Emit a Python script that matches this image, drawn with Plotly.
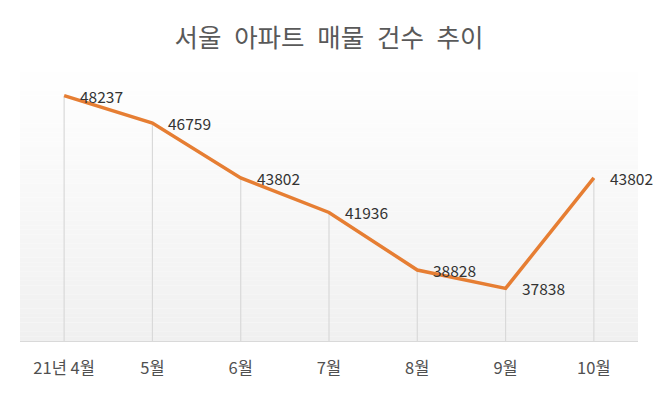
import plotly.graph_objects as go

categories = ["21년 4월", "5월", "6월", "7월", "8월", "9월", "10월"]
listings = [48237, 46759, 43802, 41936, 38828, 37838, 43802]
title_text = "서울 아파트 매물 건수 추이"

y_min, y_max = 35000, 50000
FONT = "Noto Sans CJK KR"

fig = go.Figure()

# drop lines from each point to the baseline
fig.add_trace(go.Scatter(
    x=categories, y=listings, mode="markers",
    marker=dict(size=0.1, color="rgba(0,0,0,0)"),
    error_y=dict(type="data", symmetric=False,
                 array=[0] * len(listings),
                 arrayminus=[v - y_min for v in listings],
                 color="#d9d9d9", thickness=1.2, width=0),
    hoverinfo="skip", showlegend=False,
))

fig.add_trace(go.Scatter(
    x=categories, y=listings, mode="lines",
    line=dict(color="#E67E33", width=3.5),
    showlegend=False,
))

for c, v in zip(categories, listings):
    fig.add_annotation(x=c, y=v, text=str(v), showarrow=False,
                       xanchor="left", yanchor="middle", xshift=14,
                       font=dict(family=FONT, size=15.5, color="#333333"))

# vertical gradient background in plot area
n = 60
for i in range(n):
    t = i / (n - 1)
    g = round(255 - (255 - 240) * t)
    fig.add_shape(type="rect", xref="x domain", yref="y domain",
                  x0=0, x1=1, y0=1 - (i + 1) / n, y1=1 - i / n,
                  fillcolor=f"rgb({g},{g},{g})", line=dict(width=0),
                  layer="below")

fig.update_layout(
    width=658, height=393,
    margin=dict(l=20, r=20, t=63, b=52),
    paper_bgcolor="white", plot_bgcolor="white",
    title=dict(text=title_text.replace(" ", "\u2002"), x=0.5, xanchor="center",
               y=0.902, yanchor="middle",
               font=dict(family=FONT, size=25.5, color="#595959")),
    xaxis=dict(type="category", range=[-0.5, len(categories) - 0.5],
               showgrid=False, zeroline=False, showline=True,
               linecolor="#d9d9d9", linewidth=1, ticks="",
               ticklabelstandoff=12,
               tickfont=dict(family=FONT, size=16.5, color="#505050")),
    yaxis=dict(range=[y_min, y_max], visible=False, showgrid=False, zeroline=False),
)

fig.write_html("out.html", config={"displayModeBar": False},
               post_script="document.body.style.margin='0px';")
